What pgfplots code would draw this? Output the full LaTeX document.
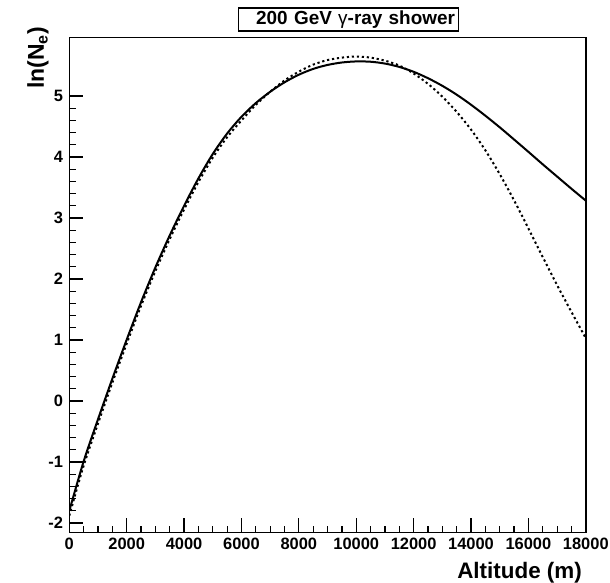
\documentclass[border=0pt]{standalone}
\usepackage{fontspec}
\setmainfont{Liberation Sans}
\usepackage{pgfplots}
\pgfplotsset{compat=1.18}
\begin{document}
\begin{tikzpicture}
\path[use as bounding box] (0,0) rectangle (610bp,583bp);
\begin{axis}[
  at={(69.3bp,50.5bp)}, anchor=south west,
  scale only axis, width=516.5bp, height=495bp,
  xmin=0, xmax=18000, ymin=-2.156, ymax=5.96,
  xtick={0,2000,...,18000}, ytick={-2,-1,...,5},
  minor x tick num=3, minor y tick num=4,
  scaled ticks=false,
  tick pos=left, tick align=inside,
  major tick length=14bp, minor tick length=6.5bp,
  axis line style={line width=1.6bp},
  tick style={black, line width=1.2bp},
  tick label style={font=\fontsize{16.5}{18}\selectfont\bfseries, inner sep=0pt},
  xticklabel style={yshift=-5.5bp},
  yticklabel style={xshift=-6bp},
  /pgf/number format/assume math mode=true,
  /pgf/number format/set thousands separator={},
]
\addplot[black, line width=2bp, smooth] coordinates {
(0,-1.8) (500,-0.99) (1000,-0.30) (1500,0.365) (2000,1.005) (2500,1.62) (3000,2.19)
(3500,2.715) (4000,3.20) (4500,3.65) (5000,4.05) (5500,4.385) (6000,4.66) (6500,4.885)
(7000,5.07) (7500,5.225) (8000,5.35) (8500,5.445) (9000,5.51) (9500,5.55) (10000,5.5675)
(10500,5.5625) (11000,5.5325) (11500,5.4775) (12000,5.3975) (12500,5.2925) (13000,5.1675)
(13500,5.0225) (14000,4.8575) (14500,4.6775) (15000,4.4875) (15500,4.2875) (16000,4.085)
(16500,3.88) (17000,3.68) (17500,3.48) (18000,3.285)
};
\addplot[black, line width=2bp, line cap=butt, dash pattern=on 2.2bp off 2.8bp, smooth] coordinates {
(0,-1.88) (500,-1.06) (1000,-0.37) (1500,0.30) (2000,0.94) (2500,1.56) (3000,2.13)
(3500,2.655) (4000,3.14) (4500,3.59) (5000,3.99) (5500,4.325) (6000,4.60) (6500,4.855)
(7000,5.07) (7500,5.255) (8000,5.40) (8500,5.515) (9000,5.59) (9500,5.63) (10000,5.6475)
(10500,5.63) (11000,5.58) (11500,5.50) (12000,5.37) (12500,5.20) (13000,4.99)
(13500,4.74) (14000,4.45) (14500,4.11) (15000,3.72) (15500,3.29) (16000,2.83)
(16500,2.36) (17000,1.90) (17500,1.46) (18000,1.03)
};
\end{axis}
\node[anchor=base east, font=\fontsize{22.5}{24}\selectfont\bfseries, inner sep=0pt] at (582bp,5bp) {Altitude (m)};
\node[rotate=90, anchor=center, font=\fontsize{23}{25}\selectfont\bfseries, inner sep=0pt] at (38bp,525bp) {ln(N\textsubscript{e})};
\node[draw, line width=1.2bp, text width=213bp, align=right, inner xsep=3.5bp, inner ysep=0pt, minimum height=23bp, font=\fontsize{19}{21}\selectfont\bfseries] at (348.5bp,563.5bp) {200 GeV {\mdseries γ}-ray shower};
\end{tikzpicture}
\end{document}
